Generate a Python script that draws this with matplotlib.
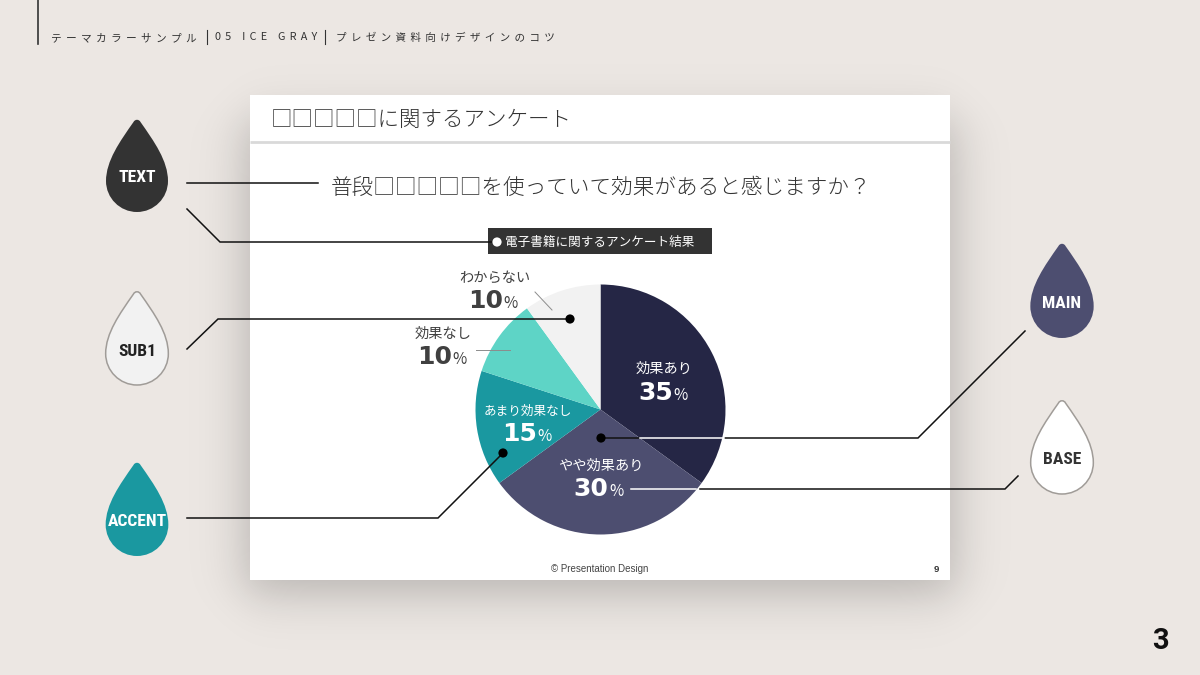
# Theme colour sample slide: pie chart with colour drop callouts
import numpy as np
import matplotlib
matplotlib.use('Agg')
import matplotlib.pyplot as plt
from matplotlib.path import Path
from matplotlib.patches import PathPatch, Rectangle, Circle

plt.rcParams['font.family'] = ['Noto Sans CJK JP', 'DejaVu Sans']

# data
categories = ['効果あり', 'やや効果あり', 'あまり効果なし', '効果なし', 'わからない']
values = [35, 30, 15, 10, 10]
pie_colors = ['#252645', '#4D4E70', '#1A98A0', '#5ED4C6', '#F2F2F2']
label_colors = ['white', 'white', 'white', '#404040', '#404040']
drop_names = ['TEXT', 'SUB1', 'ACCENT', 'MAIN', 'BASE']
drop_fills = ['#333333', '#F2F2F2', '#1A98A0', '#4D4E70', '#FFFFFF']
drop_text = ['white', '#222222', 'white', 'white', '#333333']

header = ['テーマカラーサンプル', '05 ICE GRAY', 'プレゼン資料向けデザインのコツ']
slide_title = '□□□□□に関するアンケート'
question = '普段□□□□□を使っていて効果があると感じますか？'
tag = '電子書籍に関するアンケート結果'

BG = '#ECE7E3'
W, H = 1200, 675

fig = plt.figure(figsize=(12, 6.75), dpi=100, facecolor=BG)


def px_axes(z):
    a = fig.add_axes([0, 0, 1, 1], zorder=z)
    a.set_xlim(0, W)
    a.set_ylim(H, 0)
    a.axis('off')
    return a


def px(size):
    return size * 0.72


def spaced(s, n):
    return ('\u2009' * n).join(s)


def drop(ax, cx, top, bottom, fill, edge=None):
    r = (bottom - top) / 3.0
    cy = bottom - r
    k = 0.55 * r
    verts = [(cx - 3.5, top + 3), (cx - 0.55 * r, top + 0.72 * r), (cx - r, top + 1.35 * r), (cx - r, cy),
             (cx - r, cy + k), (cx - k, cy + r), (cx, cy + r),
             (cx + k, cy + r), (cx + r, cy + k), (cx + r, cy),
             (cx + r, top + 1.35 * r), (cx + 0.55 * r, top + 0.72 * r), (cx + 3.5, top + 3),
             (cx + 2, top), (cx - 2, top), (cx - 3.5, top + 3)]
    codes = [Path.MOVETO] + [Path.CURVE4] * 15
    ax.add_patch(PathPatch(Path(verts, codes), facecolor=fill,
                           edgecolor=edge if edge else fill, lw=1.1 if edge else 0))


# background layer: shadow and the white card
back = px_axes(0)
xx, yy = np.meshgrid(np.arange(W) + 0.5, np.arange(H) + 0.5)
sx = 0.5 * (np.tanh((xx - 245) / 28) - np.tanh((xx - 955) / 28))
sy = 0.5 * (np.tanh((yy - 120) / 28) - np.tanh((yy - 594) / 28))
shadow = np.zeros((H, W, 4))
shadow[..., 3] = 0.22 * sx * sy
back.imshow(shadow, extent=(0, W, H, 0), aspect='auto', zorder=1)
back.set_xlim(0, W)
back.set_ylim(H, 0)
back.add_patch(Rectangle((250, 95), 700, 485, fc='white', ec='none', zorder=2))
back.plot([250, 950], [141.5, 141.5], color='#D9D9D9', lw=2, zorder=3, solid_capstyle='butt')
back.plot([38, 38], [0, 44], color='#333333', lw=1.2, zorder=3)

back.text(51, 38, spaced(header[0], 2), fontsize=px(10.7), color='#333333', va='center', zorder=4)
back.plot([206.5, 206.5], [30, 44], color='#333333', lw=0.8, zorder=4)
back.text(215, 37, spaced(header[1], 2), fontsize=px(10.8), color='#333333', va='center', zorder=4)
back.plot([325, 325], [30, 44], color='#333333', lw=0.8, zorder=4)
back.text(336, 38, spaced(header[2], 2), fontsize=px(10.6), color='#333333', va='center', zorder=4)

back.text(271, 120, slide_title, fontsize=px(21.5), color='#333333', va='center', zorder=4, fontweight='light')
back.text(331, 188, question, fontsize=px(21.6), color='#333333', va='center', zorder=4, fontweight='light')
back.add_patch(Rectangle((488, 228), 224, 26, fc='#333333', ec='none', zorder=3))
back.text(505, 242, tag, fontsize=px(12.6), color='white', va='center', zorder=4)
back.text(600, 569.5, '© Presentation Design', fontsize=px(9.8), color='#444444', ha='center', va='center',
          family=['Liberation Sans', 'DejaVu Sans'], zorder=4)
back.text(936, 569, '9', fontsize=px(9.5), color='#333333', fontweight='bold', ha='center', va='center',
          family=['Liberation Sans', 'DejaVu Sans'], zorder=4)
back.text(1160, 641, '3', fontsize=px(29), color='#111111', fontweight='bold', ha='center', va='center',
          family=['Roboto', 'DejaVu Sans'], zorder=4)

# pie
pie_ax = fig.add_axes([475.5 / W, 1 - 534.5 / H, 250 / W, 250 / H], zorder=1)
pie_ax.pie(values, colors=pie_colors, startangle=90, counterclock=False,
           wedgeprops={'linewidth': 0})
pie_ax.set_xlim(-1, 1)
pie_ax.set_ylim(-1, 1)
pie_ax.axis('off')

# top layer: drops, leader lines, labels
top = px_axes(2)
drop_cx = [137, 137, 137, 1062, 1062]
drop_top = [119, 291, 462, 243, 400]
drop_bottom = [212, 385, 556, 338, 494]
drop_edge = [None, '#A09C98', None, None, '#A09C98']
drop_label_y = [178, 351, 522, 303, 460]
for i in range(len(drop_names)):
    drop(top, drop_cx[i], drop_top[i], drop_bottom[i], drop_fills[i], drop_edge[i])
    top.text(drop_cx[i], drop_label_y[i], drop_names[i], color=drop_text[i], fontsize=px(17.5),
             fontweight='bold', ha='center', va='center',
             family=['Roboto Condensed', 'DejaVu Sans'])

lines = [([187, 318], [183, 183]),
         ([187, 220, 493], [209, 242, 242]),
         ([187, 218, 570], [349, 319, 319]),
         ([187, 438, 503], [518, 518, 453]),
         ([1025, 918, 725], [331, 438, 438]),
         ([601, 640], [438, 438]),
         ([1018, 1005, 700], [476, 489, 489])]
for lx, ly in lines:
    top.plot(lx, ly, color='#111111', lw=1.1, solid_joinstyle='miter')
top.plot([640, 724], [438, 438], color='white', lw=1.1)
top.plot([631, 696], [489, 489], color='white', lw=1.1)
top.plot([535, 552], [292, 310], color='#8C8C8C', lw=0.7)
top.plot([476, 510], [350, 350], color='#8C8C8C', lw=0.7)

top.add_patch(Circle((497, 242), 4.6, fc='white', ec='none', zorder=5))
for c in [(570, 319), (601, 438), (503, 453)]:
    top.add_patch(Circle(c, 4.6, fc='black', ec='none', zorder=5))

name_xy = [(664, 368), (601, 465), (528, 410), (443, 333), (495, 277)]
name_size = [14.2, 14.2, 12.6, 14.2, 14.2]
num_xy = [(673, 400), (608.5, 496), (537, 441), (452, 364), (503, 308)]
for i, cat in enumerate(categories):
    top.text(name_xy[i][0], name_xy[i][1] + 1, cat, color=label_colors[i], fontsize=px(name_size[i]),
             ha='center', va='center')
    top.text(num_xy[i][0], num_xy[i][1], str(values[i]), color=label_colors[i], fontsize=px(25),
             fontweight='bold', ha='right', va='baseline', family=['DejaVu Sans'])
    top.text(num_xy[i][0] + 0.5, num_xy[i][1], '%', color=label_colors[i], fontsize=px(15.5),
             ha='left', va='baseline')

fig.savefig('out.png', dpi=100, facecolor=BG)
